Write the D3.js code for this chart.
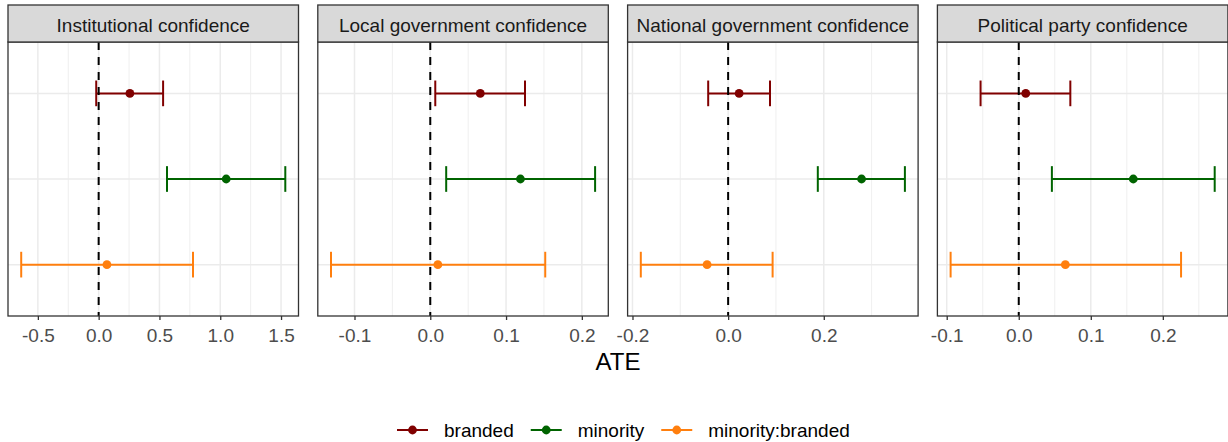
<!DOCTYPE html>
<html>
<head>
<meta charset="utf-8">
<script src="https://cdn.jsdelivr.net/npm/d3@7"></script>
<style>
  html, body { margin: 0; padding: 0; background: #fff; }
  svg { display: block; font-family: "Liberation Sans", Arial, sans-serif; }
</style>
</head>
<body>
<div id="chart"></div>
<script>
// Facets (outcomes) and model terms
const outcomes = [
  "Institutional confidence",
  "Local government confidence",
  "National government confidence",
  "Political party confidence"
];
const terms = ["branded", "minority", "minority:branded"];
const termColors = ["#800000", "#006400", "#ff7f0e"];

// Estimates and 95% CIs, one row per outcome, in the order of `terms`
const estimates = [
  [0.257, 1.049, 0.068],
  [0.066, 0.119, 0.010],
  [0.023, 0.279, -0.044],
  [0.0097, 0.159, 0.0647]
];
const lowers = [
  [-0.020, 0.562, -0.637],
  [0.0066, 0.021, -0.131],
  [-0.0417, 0.1875, -0.1826],
  [-0.053, 0.046, -0.0946]
];
const uppers = [
  [0.530, 1.535, 0.776],
  [0.125, 0.2175, 0.1517],
  [0.0875, 0.3696, 0.093],
  [0.0716, 0.272, 0.2253]
];

// Major x ticks per facet (free scales)
const xTicks = [
  [-0.5, 0.0, 0.5, 1.0, 1.5],
  [-0.1, 0.0, 0.1, 0.2],
  [-0.2, 0.0, 0.2],
  [-0.1, 0.0, 0.1, 0.2]
];

const width = 1228;
const height = 442;
const panel = { left: 8, width: 290.5, step: 309.8, stripTop: 5, top: 42, bottom: 316 };
const fmt = d3.formatLocale({ decimal: ".", thousands: ",", grouping: [3], currency: ["", ""], minus: "-" }).format(".1f");

const svg = d3.select("#chart").append("svg")
  .attr("width", width)
  .attr("height", height);

const y = d3.scalePoint()
  .domain(terms)
  .range([panel.top, panel.bottom])
  .padding(0.6);
const capHalf = y.step() * 0.15;

outcomes.forEach((name, i) => {
  const x0 = panel.left + i * panel.step;
  const x1 = x0 + panel.width;
  const lo = d3.min(lowers[i]);
  const hi = d3.max(uppers[i]);
  const pad = (hi - lo) * 0.05;
  const x = d3.scaleLinear().domain([lo - pad, hi + pad]).range([x0, x1]);

  const g = svg.append("g");

  // panel background
  g.append("rect")
    .attr("x", x0).attr("y", panel.top)
    .attr("width", panel.width).attr("height", panel.bottom - panel.top)
    .attr("fill", "#fff");

  // minor gridlines: midpoints between major ticks
  const ticks = xTicks[i];
  const stepT = ticks[1] - ticks[0];
  const minor = d3.range(ticks.length + 1)
    .map(k => ticks[0] + (k - 0.5) * stepT)
    .filter(v => v > x.domain()[0] && v < x.domain()[1]);
  g.selectAll(".minor").data(minor).join("line")
    .attr("x1", d => x(d)).attr("x2", d => x(d))
    .attr("y1", panel.top).attr("y2", panel.bottom)
    .attr("stroke", "#ebebeb").attr("stroke-width", 0.8);

  g.selectAll(".major").data(ticks).join("line")
    .attr("x1", d => x(d)).attr("x2", d => x(d))
    .attr("y1", panel.top).attr("y2", panel.bottom)
    .attr("stroke", "#ebebeb").attr("stroke-width", 1.5);

  g.selectAll(".hgrid").data(terms).join("line")
    .attr("x1", x0).attr("x2", x1)
    .attr("y1", d => y(d)).attr("y2", d => y(d))
    .attr("stroke", "#ebebeb").attr("stroke-width", 1.5);

  // error bars
  const rows = terms.map((t, j) => ({
    term: t, color: termColors[j],
    est: estimates[i][j], lo: lowers[i][j], hi: uppers[i][j]
  }));

  const bars = g.selectAll(".bar").data(rows).join("g");
  bars.append("line")
    .attr("x1", d => x(d.lo)).attr("x2", d => x(d.hi))
    .attr("y1", d => y(d.term)).attr("y2", d => y(d.term))
    .attr("stroke", d => d.color).attr("stroke-width", 2);
  bars.append("line")
    .attr("x1", d => x(d.lo)).attr("x2", d => x(d.lo))
    .attr("y1", d => y(d.term) - capHalf).attr("y2", d => y(d.term) + capHalf)
    .attr("stroke", d => d.color).attr("stroke-width", 2);
  bars.append("line")
    .attr("x1", d => x(d.hi)).attr("x2", d => x(d.hi))
    .attr("y1", d => y(d.term) - capHalf).attr("y2", d => y(d.term) + capHalf)
    .attr("stroke", d => d.color).attr("stroke-width", 2);
  bars.append("circle")
    .attr("cx", d => x(d.est)).attr("cy", d => y(d.term))
    .attr("r", 4.4)
    .attr("fill", d => d.color);

  // reference line at zero
  g.append("line")
    .attr("x1", x(0)).attr("x2", x(0))
    .attr("y1", panel.top).attr("y2", panel.bottom)
    .attr("stroke", "#000").attr("stroke-width", 2)
    .attr("stroke-dasharray", "8,7");

  // panel border
  g.append("rect")
    .attr("x", x0).attr("y", panel.top)
    .attr("width", panel.width).attr("height", panel.bottom - panel.top)
    .attr("fill", "none").attr("stroke", "#333").attr("stroke-width", 1.3);

  // strip
  g.append("rect")
    .attr("x", x0).attr("y", panel.stripTop)
    .attr("width", panel.width).attr("height", panel.top - panel.stripTop)
    .attr("fill", "#d9d9d9").attr("stroke", "#333").attr("stroke-width", 1.3);
  g.append("text")
    .attr("x", (x0 + x1) / 2).attr("y", 31.5)
    .attr("text-anchor", "middle")
    .attr("font-size", 19)
    .attr("fill", "#1a1a1a")
    .text(name);

  // x axis
  const axis = d3.axisBottom(x)
    .tickValues(ticks)
    .tickFormat(fmt)
    .tickSize(4)
    .tickPadding(9);
  const ax = g.append("g")
    .attr("transform", `translate(0,${panel.bottom})`)
    .call(axis);
  ax.select(".domain").remove();
  ax.selectAll(".tick line").attr("stroke", "#333").attr("stroke-width", 1.3);
  ax.selectAll(".tick text")
    .attr("font-size", 19)
    .attr("font-family", "Liberation Sans, Arial, sans-serif")
    .attr("fill", "#4d4d4d");
});

// axis title
svg.append("text")
  .attr("x", 618).attr("y", 370)
  .attr("text-anchor", "middle")
  .attr("font-size", 24)
  .attr("fill", "#000")
  .text("ATE");

// legend
const legend = svg.append("g").attr("transform", "translate(397,430)");
let lx = 0;
terms.forEach((t, j) => {
  const item = legend.append("g").attr("transform", `translate(${lx},0)`);
  item.append("line")
    .attr("x1", 0).attr("x2", 31)
    .attr("stroke", termColors[j]).attr("stroke-width", 2);
  item.append("circle")
    .attr("cx", 15.5).attr("r", 4.4)
    .attr("fill", termColors[j]);
  const txt = item.append("text")
    .attr("x", 47).attr("y", 7)
    .attr("font-size", 19)
    .attr("fill", "#000")
    .text(t);
  lx += 47 + txt.node().getComputedTextLength() + 17;
});
</script>
</body>
</html>
